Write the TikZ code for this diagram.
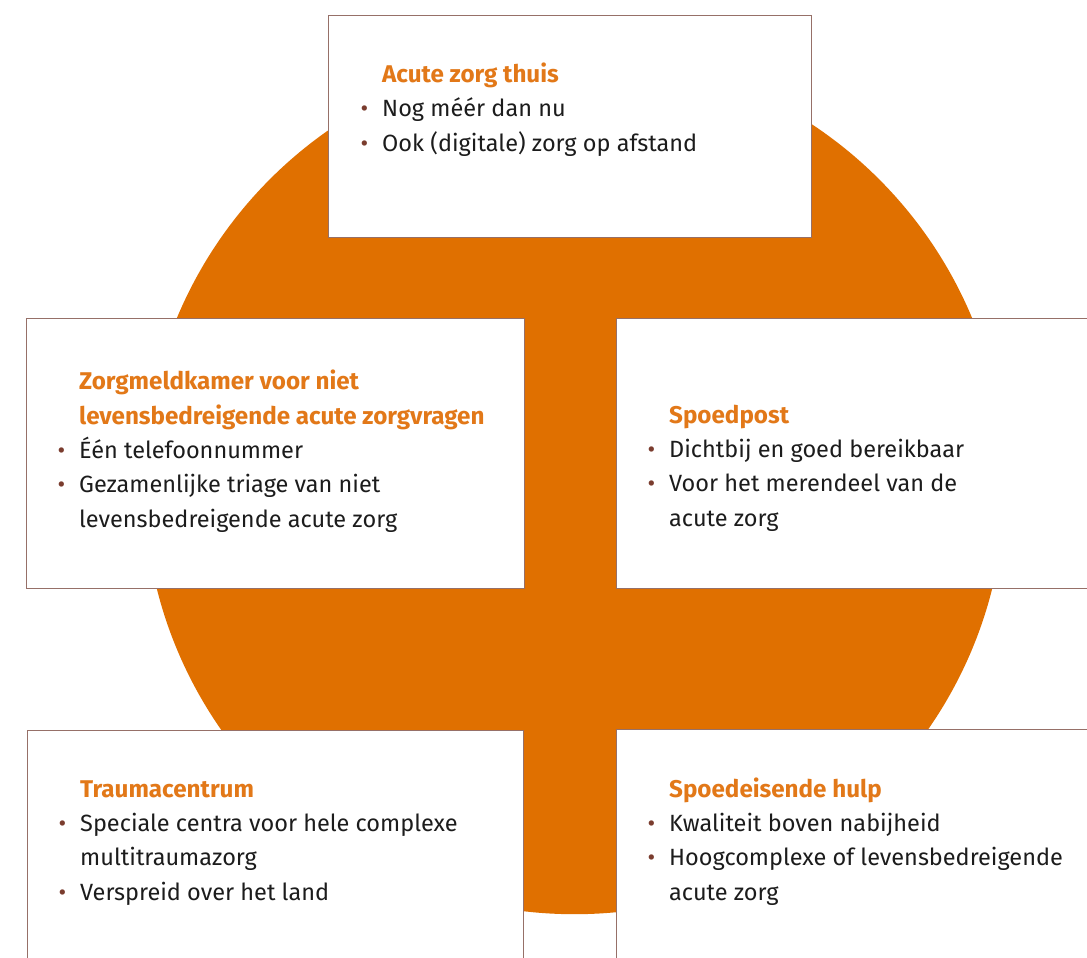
\documentclass[tikz,border=0pt]{standalone}
\usepackage{fontspec}
\setmainfont{Fira Sans}
\usepackage{xcolor}
\definecolor{zorgoranje}{RGB}{224,112,0}
\definecolor{titeloranje}{RGB}{226,120,24}
\definecolor{kaderlijn}{RGB}{150,112,104}
\definecolor{puntbruin}{RGB}{122,60,46}
\definecolor{tekstzwart}{RGB}{28,28,28}
\newcommand{\punt}{\llap{\textcolor{puntbruin}{•}\hspace{14pt}}}
\newcommand{\titel}[1]{{\fontsize{24.2}{34.3}\selectfont\bfseries\color{titeloranje}#1}}

\begin{document}
\begin{tikzpicture}[x=1pt,y=-1pt,
    kader/.style={draw=kaderlijn,line width=0.8pt,fill=white,inner sep=0pt},
    tekstblok/.style={anchor=base west,align=left,inner sep=0pt,text=tekstzwart,
      font=\fontsize{23.5}{34.3}\selectfont}]
  \useasboundingbox (0,0) rectangle (1087,958);

  %------------------
  % oranje cirkel
  %------------------
  \fill[zorgoranje] (574.5,483.6) circle (430.6);

  %------------------
  % kaders
  %------------------
  \node[kader,minimum width=483,minimum height=222] (thuis) at (569.5,126) {};
  \node[kader,minimum width=498,minimum height=270] (meldkamer) at (275,453) {};
  \node[kader,minimum width=479,minimum height=270] (spoedpost) at (855.5,453) {};
  \node[kader,minimum width=496,minimum height=236] (trauma) at (275,848) {};
  \node[kader,minimum width=479,minimum height=237] (seh) at (855.5,847.5) {};

  %------------------
  % teksten (anker = basislijn van de laatste regel)
  %------------------
  \node[tekstblok] (thuistekst) at (382,151) {%
    \titel{Acute zorg thuis}\\
    \punt Nog méér dan nu\\
    \punt Ook (digitale) zorg op afstand};

  \node[tekstblok] (meldkamertekst) at (79,527) {%
    \titel{Zorgmeldkamer voor niet}\\
    \titel{levensbedreigende acute zorgvragen}\\
    \punt Één telefoonnummer\\
    \punt Gezamenlijke triage van niet\\
    levensbedreigende acute zorg};

  \node[tekstblok] (spoedposttekst) at (669,526) {%
    \titel{Spoedpost}\\
    \punt Dichtbij en goed bereikbaar\\
    \punt Voor het merendeel van de\\
    acute zorg};

  \node[tekstblok] (traumatekst) at (80,900) {%
    \titel{Traumacentrum}\\
    \punt Speciale centra voor hele complexe\\
    multitraumazorg\\
    \punt Verspreid over het land};

  \node[tekstblok] (sehtekst) at (669,900) {%
    \titel{Spoedeisende hulp}\\
    \punt Kwaliteit boven nabijheid\\
    \punt Hoogcomplexe of levensbedreigende\\
    acute zorg};
\end{tikzpicture}
\end{document}
